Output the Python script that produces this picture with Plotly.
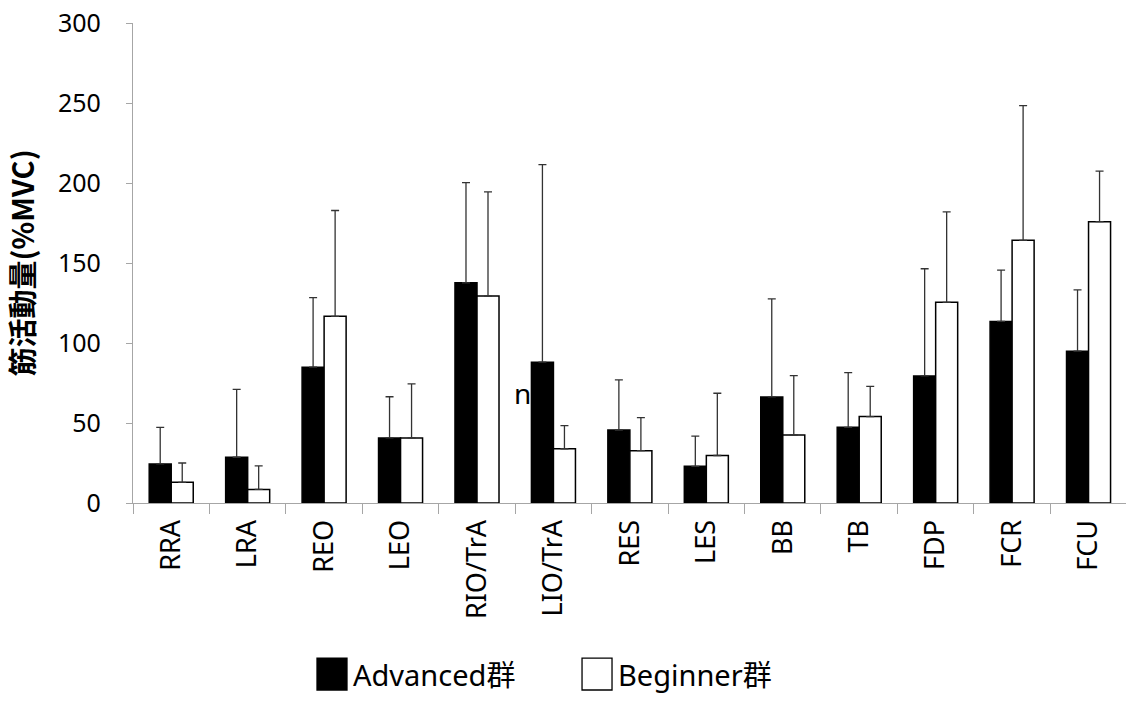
import plotly.graph_objects as go

# Muscle groups measured
muscles = ["RRA", "LRA", "REO", "LEO", "RIO/TrA", "LIO/TrA", "RES", "LES",
           "BB", "TB", "FDP", "FCR", "FCU"]

# Mean muscle activity (%MVC) per group
advanced_mean = [24.4, 28.6, 84.9, 40.7, 137.6, 88.0, 45.6, 22.9, 66.3, 47.3, 79.4, 113.5, 94.9]
beginner_mean = [12.9, 8.5, 116.7, 40.7, 129.3, 33.9, 32.7, 29.7, 42.5, 54.0, 125.4, 164.2, 175.8]

# Standard deviations (upper error bars)
advanced_sd = [22.9, 42.4, 43.5, 25.7, 62.6, 123.5, 31.3, 18.9, 61.3, 34.2, 67.0, 32.1, 38.3]
beginner_sd = [12.1, 14.7, 66.1, 33.8, 65.1, 14.4, 20.7, 38.9, 37.1, 18.9, 56.5, 84.1, 31.6]

series_names = ["Advanced群", "Beginner群"]
y_ticks = [0, 50, 100, 150, 200, 250, 300]

LATIN = "Noto Sans, Noto Sans CJK JP, sans-serif"
CJK = "Noto Sans CJK JP, Noto Sans, sans-serif"
AXIS_GREY = "#a6a6a6"

fig = go.Figure()

fig.add_trace(go.Bar(
    x=muscles, y=advanced_mean, name=series_names[0],
    marker=dict(color="black", line=dict(color="black", width=1.5)),
    error_y=dict(type="data", array=advanced_sd, arrayminus=[0] * len(muscles),
                 symmetric=False, color="#333333", thickness=1.3, width=4),
    showlegend=False,
))
fig.add_trace(go.Bar(
    x=muscles, y=beginner_mean, name=series_names[1],
    marker=dict(color="white", line=dict(color="black", width=1.5)),
    error_y=dict(type="data", array=beginner_sd, arrayminus=[0] * len(muscles),
                 symmetric=False, color="#333333", thickness=1.3, width=4),
    showlegend=False,
))

# Significance note beside the LIO/TrA group
fig.add_annotation(x=4.46, y=69, xref="x", yref="y", text="n.", showarrow=False,
                   xanchor="left", yanchor="middle",
                   font=dict(family=LATIN, size=28, color="black"))

# Legend drawn as large swatches with labels beneath the chart
legend_items = [
    (series_names[0], "black", 0.1853, 0.2155, 0.2195),
    (series_names[1], "white", 0.4522, 0.4824, 0.4864),
]
for label, fill, x0, x1, tx in legend_items:
    fig.add_shape(type="rect", xref="paper", yref="paper",
                  x0=x0, x1=x1, y0=-0.3896, y1=-0.3230,
                  fillcolor=fill, line=dict(color="black", width=1.3))
    fig.add_annotation(x=tx, y=-0.3563, xref="paper", yref="paper", text=label,
                       showarrow=False, xanchor="left", yanchor="middle",
                       font=dict(family=LATIN, size=29, color="black"))

fig.update_layout(
    width=1126, height=704,
    margin=dict(l=133, r=0, t=23, b=201),
    paper_bgcolor="white", plot_bgcolor="white",
    barmode="group", bargap=0.424, bargroupgap=0,
    font=dict(family=LATIN, color="black"),
    xaxis=dict(
        type="category", range=[-0.5, 12.49],
        showline=True, linecolor=AXIS_GREY, linewidth=1.3,
        ticks="outside", tickson="boundaries", ticklen=10, tickcolor=AXIS_GREY,
        tickangle=-90, tickfont=dict(family=LATIN, size=27, color="black"),
        ticklabelstandoff=5, showgrid=False,
    ),
    yaxis=dict(
        range=[0, 300], tickvals=y_ticks,
        showline=True, linecolor=AXIS_GREY, linewidth=1.3,
        ticks="outside", ticklen=6, tickcolor=AXIS_GREY,
        tickfont=dict(family=LATIN, size=25, color="black"),
        ticklabelstandoff=20, showgrid=False, zeroline=False,
        title=dict(text="<b>筋活動量(%MVC)</b>", standoff=16,
                   font=dict(family=CJK, size=29, color="black")),
    ),
)

fig.write_html("out.html")
